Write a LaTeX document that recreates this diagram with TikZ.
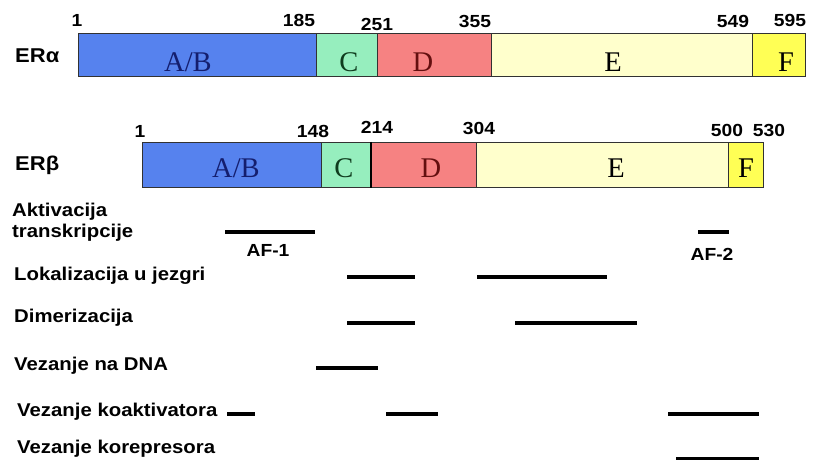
\documentclass[tikz,border=0pt]{standalone}
\usepackage{fontspec}
\newfontfamily\labfont[FakeStretch=1.1]{Liberation Sans}
\newfontfamily\domfont{Liberation Serif}
\definecolor{cAB}{RGB}{86,130,238}
\definecolor{cC}{RGB}{150,238,190}
\definecolor{cD}{RGB}{246,130,130}
\definecolor{cE}{RGB}{255,255,204}
\definecolor{cF}{RGB}{255,255,85}
\definecolor{tAB}{RGB}{20,30,110}
\definecolor{tC}{RGB}{15,60,30}
\definecolor{tD}{RGB}{100,15,15}
\definecolor{edge}{RGB}{50,50,50}
\tikzset{
  seg/.style={draw=edge,line width=1pt,rectangle,inner sep=0pt,anchor=north west},
  dom/.style={font=\domfont\fontsize{28.5}{30}\selectfont,anchor=base,inner sep=0pt},
  num/.style={font=\labfont\bfseries\fontsize{17.5}{19}\selectfont,anchor=base,inner sep=0pt},
  erlab/.style={font=\labfont\bfseries\fontsize{20}{23}\selectfont,anchor=base west,inner sep=0pt},
  fnlab/.style={font=\labfont\bfseries\fontsize{18.5}{20}\selectfont,anchor=base west,inner sep=0pt},
  aflab/.style={font=\labfont\bfseries\fontsize{17.5}{19}\selectfont,anchor=base,inner sep=0pt},
  bar/.style={line width=4pt,line cap=butt}
}
\begin{document}
\begin{tikzpicture}[x=1pt,y=-1pt]
\useasboundingbox[fill=white] (0,0) rectangle (815,460);
% ER alpha
\node[erlab] (lalpha) at (15,63) {ERα};
\node[seg,fill=cAB,minimum width=238pt,minimum height=43pt] (aAB) at (78,33) {};
\node[seg,fill=cC,minimum width=61pt,minimum height=43pt] (aC) at (316,33) {};
\node[seg,fill=cD,minimum width=114pt,minimum height=43pt] (aD) at (377,33) {};
\node[seg,fill=cE,minimum width=261pt,minimum height=43pt] (aE) at (491,33) {};
\node[seg,fill=cF,minimum width=53pt,minimum height=43pt] (aF) at (752,33) {};
\node[dom,text=tAB] (taAB) at (188,72) {A/B};
\node[dom,text=tC] (taC) at (349,72) {C};
\node[dom,text=tD] (taD) at (423,72) {D};
\node[dom] (taE) at (613,72) {E};
\node[dom] (taF) at (786,72) {F};
\node[num] (na1) at (77,27) {1};
\node[num] (na185) at (299,27) {185};
\node[num] (na251) at (377,31) {251};
\node[num] (na355) at (475,28) {355};
\node[num] (na549) at (733,28) {549};
\node[num] (na595) at (790,27) {595};
% ER beta
\node[erlab] (lbeta) at (15,170) {ERβ};
\node[seg,fill=cAB,minimum width=179pt,minimum height=45pt] (bAB) at (142,142) {};
\node[seg,fill=cC,minimum width=49pt,minimum height=45pt] (bC) at (321,142) {};
\node[seg,fill=cD,minimum width=106pt,minimum height=45pt] (bD) at (370,142) {};
\node[seg,fill=cE,minimum width=252pt,minimum height=45pt] (bE) at (476,142) {};
\node[seg,fill=cF,minimum width=35pt,minimum height=45pt] (bF) at (728,142) {};
\draw[line width=2pt,black] (bC.north east) -- (bC.south east);
\node[dom,text=tAB] (tbAB) at (236,178) {A/B};
\node[dom,text=tC] (tbC) at (344,178) {C};
\node[dom,text=tD] (tbD) at (431,178) {D};
\node[dom] (tbE) at (616,178) {E};
\node[dom] (tbF) at (746,178) {F};
\node[num] (nb1) at (140,137) {1};
\node[num] (nb148) at (313,138) {148};
\node[num] (nb214) at (377,133) {214};
\node[num] (nb304) at (479,135) {304};
\node[num] (nb500) at (727,136) {500};
\node[num] (nb530) at (769,136) {530};
% functions
\node[fnlab] (f1a) at (12,216) {Aktivacija};
\node[fnlab] (f1b) at (12,237) {transkripcije};
\node[fnlab] (f2) at (14,280) {Lokalizacija u jezgri};
\node[fnlab] (f3) at (14,322) {Dimerizacija};
\node[fnlab] (f4) at (14,370) {Vezanje na DNA};
\node[fnlab] (f5) at (17,416) {Vezanje koaktivatora};
\node[fnlab] (f6) at (17,453) {Vezanje korepresora};
\node[aflab] (af1) at (268,256) {AF-1};
\node[aflab] (af2) at (712,260) {AF-2};
% bars
\draw[bar] (225,232) -- (315,232);
\draw[bar] (698,232) -- (729,232);
\draw[bar] (347,277) -- (415,277);
\draw[bar] (477,277) -- (607,277);
\draw[bar] (347,323) -- (415,323);
\draw[bar] (515,323) -- (637,323);
\draw[bar] (316,368) -- (378,368);
\draw[bar] (227,414) -- (255,414);
\draw[bar] (386,414) -- (438,414);
\draw[bar] (668,414) -- (759,414);
\draw[bar] (676,459) -- (759,459);
\end{tikzpicture}
\end{document}
